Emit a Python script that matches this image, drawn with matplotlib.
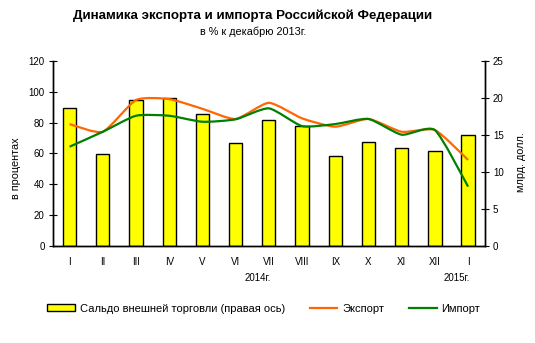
import matplotlib
matplotlib.use("Agg")
import matplotlib.pyplot as plt
from matplotlib.path import Path
from matplotlib.patches import PathPatch, Patch
from matplotlib.lines import Line2D
import numpy as np

plt.rcParams['font.family'] = ['Liberation Sans', 'DejaVu Sans']

months = ['I', 'II', 'III', 'IV', 'V', 'VI', 'VII', 'VIII', 'IX', 'X', 'XI', 'XII', 'I']
saldo = [18.6, 12.4, 19.8, 20.0, 17.9, 13.9, 17.0, 16.2, 12.1, 14.1, 13.3, 12.8, 15.0]
export = [79.1, 74.1, 94.7, 95.3, 89.0, 82.4, 92.9, 82.8, 77.4, 82.4, 74.1, 75.2, 55.8]
imports = [64.4, 74.1, 84.5, 84.5, 80.6, 82.2, 89.3, 77.8, 79.1, 82.4, 72.2, 75.2, 38.5]

ORANGE = '#FF6600'
GREEN = '#008000'
YELLOW = '#FFFF00'


def smooth_path(x, y, k=0.1):
    # smoothed line like in Excel: cubic bezier through each point
    x = np.asarray(x, float)
    y = np.asarray(y, float)
    pts = np.column_stack([x, y])
    verts = [pts[0]]
    codes = [Path.MOVETO]
    n = len(pts)
    for i in range(n - 1):
        p0 = pts[i - 1] if i > 0 else pts[i]
        p1 = pts[i]
        p2 = pts[i + 1]
        p3 = pts[i + 2] if i + 2 < n else pts[i + 1]
        c1 = p1 + (p2 - p0) * k
        c2 = p2 - (p3 - p1) * k
        verts += [c1, c2, p2]
        codes += [Path.CURVE4] * 3
    return Path(verts, codes)


fig = plt.figure(figsize=(5.35, 3.43), dpi=100)
ax = fig.add_axes([0.099, 0.283, 0.807, 0.539])
ax2 = ax.twinx()

x = np.arange(len(months))
ax2.bar(x, saldo, width=0.4, color=YELLOW, edgecolor='black', linewidth=1.0)
ax2.set_ylim(0, 25)
ax2.set_yticks(range(0, 26, 5))

for vals, col in [(export, ORANGE), (imports, GREEN)]:
    ax.add_patch(PathPatch(smooth_path(x, vals), facecolor='none', edgecolor=col, linewidth=1.6))

ax.set_zorder(ax2.get_zorder() + 1)
ax.patch.set_visible(False)

ax.set_xlim(-0.5, len(months) - 0.5)
ax.set_ylim(0, 120)
ax.set_yticks(range(0, 121, 20))
ax.set_xticks(x)
ax.set_xticklabels(months)

for a in (ax, ax2):
    a.spines['top'].set_visible(False)
    for s in a.spines.values():
        s.set_linewidth(1.0)
    a.tick_params(axis='y', direction='inout', length=6, labelsize=7, pad=3)
    a.tick_params(axis='x', length=0, labelsize=7, pad=8)

ax.set_ylabel('в процентах', fontsize=7.8)
ax.yaxis.set_label_coords(-0.074, 0.42)
ax2.set_ylabel('млрд. долл.', fontsize=7.8)
ax2.yaxis.set_label_coords(1.073, 0.454)

fig.text(0.473, 0.953, 'Динамика экспорта и импорта Российской Федерации',
         ha='center', va='center', fontsize=9.6, fontweight='bold')
fig.text(0.473, 0.907, 'в % к декабрю 2013г.', ha='center', va='center', fontsize=7.8)
fig.text(0.482, 0.19, '2014г.', ha='center', va='center', fontsize=7)
fig.text(0.854, 0.19, '2015г.', ha='center', va='center', fontsize=7)

handles = [
    Patch(facecolor=YELLOW, edgecolor='black', linewidth=1.0),
    Line2D([], [], color=ORANGE, linewidth=1.6),
    Line2D([], [], color=GREEN, linewidth=1.6),
]
labels = ['Сальдо внешней торговли (правая ось)', 'Экспорт', 'Импорт']
fig.legend(handles, labels, loc='center', bbox_to_anchor=(0.493, 0.1), ncol=3,
           frameon=False, fontsize=8, handlelength=2.5, handleheight=0.55,
           columnspacing=2.2, handletextpad=0.45)

fig.savefig('out.png', dpi=100)
